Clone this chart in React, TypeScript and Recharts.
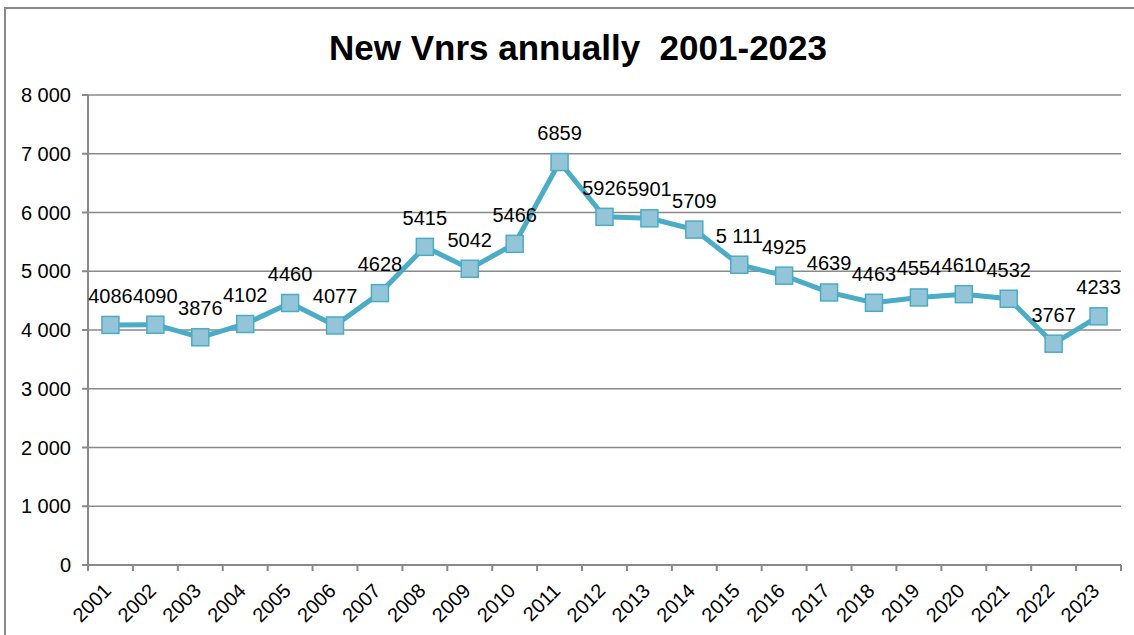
import { LineChart, Line, XAxis, YAxis, CartesianGrid, LabelList } from "recharts";

const years = [
  "2001", "2002", "2003", "2004", "2005", "2006", "2007", "2008", "2009", "2010", "2011", "2012",
  "2013", "2014", "2015", "2016", "2017", "2018", "2019", "2020", "2021", "2022", "2023",
];
const newVnrs = [
  4086, 4090, 3876, 4102, 4460, 4077, 4628, 5415, 5042, 5466, 6859, 5926,
  5901, 5709, 5111, 4925, 4639, 4463, 4554, 4610, 4532, 3767, 4233,
];
// years whose data label was written with a thousands separator in the original
const spacedLabelYears = ["2015"];
const yTicks = [0, 1000, 2000, 3000, 4000, 5000, 6000, 7000, 8000];

const data = years.map((year, i) => ({ year, value: newVnrs[i] }));

const FONT = "'Liberation Sans', Arial, sans-serif";
const GRAY = "#898989";
const LINE = "#4bacc6";
const MARKER = "#93c4d7";

const spaced = (v: number) => String(v).replace(/\B(?=(\d{3})+(?!\d))/g, " ");

function YearTick(props: any) {
  const { x, y, payload, index } = props;
  const half = payload && payload.offset > 0 ? payload.offset : (props.width ?? 1033) / years.length / 2;
  const tx = x + 2;
  const ty = y + 27;
  return (
    <g>
      <line x1={x - half} x2={x - half} y1={y} y2={y + 6} stroke={GRAY} strokeWidth={2} />
      {index === years.length - 1 && (
        <line x1={x + half} x2={x + half} y1={y} y2={y + 6} stroke={GRAY} strokeWidth={2} />
      )}
      <text
        x={tx}
        y={ty}
        textAnchor="end"
        transform={`rotate(-45, ${tx}, ${ty})`}
        fontFamily={FONT}
        fontSize={20}
        fill="#000"
      >
        {payload.value}
      </text>
    </g>
  );
}

function SquareDot(props: any) {
  const { cx, cy } = props;
  if (cx == null || cy == null) return null;
  return (
    <rect x={cx - 8.5} y={cy - 8.5} width={17} height={17} fill={MARKER} stroke={LINE} strokeWidth={1.5} />
  );
}

function ValueLabel(props: any) {
  const { x, y, value, index } = props;
  const text = spacedLabelYears.includes(years[index]) ? spaced(value) : String(value);
  return (
    <text x={x} y={y - 22} textAnchor="middle" fontFamily={FONT} fontSize={20} fill="#000">
      {text}
    </text>
  );
}

export default function App() {
  return (
    <div
      style={{
        position: "absolute",
        left: 0,
        top: 0,
        width: 1134,
        height: 635,
        overflow: "hidden",
        background: "#fff",
      }}
    >
      <div
        style={{
          position: "absolute",
          left: 4,
          top: 7,
          width: 1200,
          height: 700,
          border: `2px solid ${GRAY}`,
        }}
      />
      <div
        style={{
          position: "absolute",
          left: 0,
          top: 30,
          width: 1156,
          textAlign: "center",
          fontFamily: FONT,
          fontWeight: "bold",
          fontSize: 35,
          lineHeight: "35px",
          color: "#000",
          whiteSpace: "pre",
        }}
      >
        {"New Vnrs annually  2001-2023"}
      </div>
      <div style={{ position: "absolute", left: 0, top: 0 }}>
        <LineChart width={1134} height={635} data={data} margin={{ top: 95, right: 13, bottom: 0, left: 0 }}>
          <CartesianGrid vertical={false} stroke={GRAY} strokeWidth={1.5} />
          <XAxis
            dataKey="year"
            scale="band"
            height={70}
            interval={0}
            tickLine={false}
            tickSize={0}
            tickMargin={0}
            axisLine={{ stroke: GRAY, strokeWidth: 2 }}
            tick={<YearTick />}
          />
          <YAxis
            width={88}
            domain={[0, 8000]}
            ticks={yTicks}
            interval={0}
            tickFormatter={spaced}
            tickSize={6}
            tickMargin={11}
            axisLine={{ stroke: GRAY, strokeWidth: 2 }}
            tickLine={{ stroke: GRAY, strokeWidth: 2 }}
            tick={{ fontFamily: FONT, fontSize: 20, fill: "#000" }}
          />
          <Line
            type="linear"
            dataKey="value"
            stroke={LINE}
            strokeWidth={5}
            dot={<SquareDot />}
            activeDot={false}
            isAnimationActive={false}
          >
            <LabelList dataKey="value" content={<ValueLabel />} />
          </Line>
        </LineChart>
      </div>
    </div>
  );
}
